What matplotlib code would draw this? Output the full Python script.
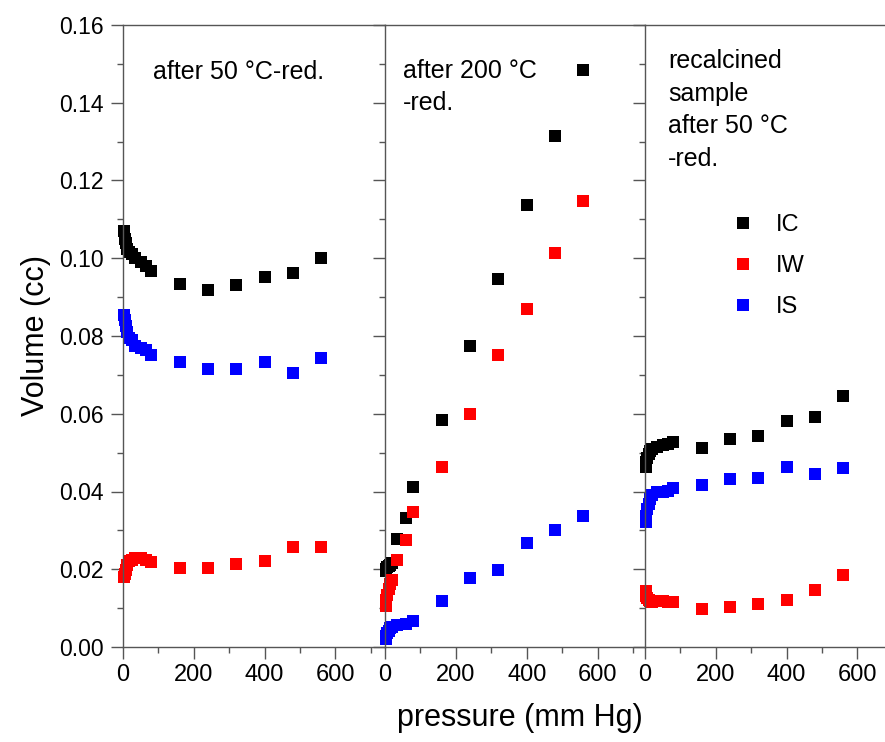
"""
Adsorption volume vs pressure for the three treatments (IC, IW, IS).
"""
import matplotlib
matplotlib.use('Agg')
from matplotlib import pyplot as plt
from matplotlib.ticker import MultipleLocator

plt.rcParams['font.family'] = ['Liberation Sans', 'DejaVu Sans']

# pressures (mm Hg) for each panel
p_50 = [2, 5, 8, 12, 18, 25, 35, 50, 65, 80, 160, 240, 320, 400, 480, 560]
p_200 = [2, 4, 7, 10, 15, 20, 35, 60, 80, 160, 240, 320, 400, 480, 560]
p_recalc = [2, 4, 7, 10, 15, 20, 35, 50, 65, 80, 160, 240, 320, 400, 480, 560]

# after 50 C reduction
ic_50 = [0.107, 0.105, 0.104, 0.1025, 0.1015, 0.101, 0.100, 0.099, 0.098, 0.0968,
         0.0935, 0.0918, 0.093, 0.0953, 0.0962, 0.1000]
iw_50 = [0.0180, 0.0188, 0.0198, 0.021, 0.022, 0.0225, 0.0228, 0.0228, 0.0225, 0.0218,
         0.0203, 0.0203, 0.0213, 0.0220, 0.0258, 0.0257]
is_50 = [0.0855, 0.084, 0.0825, 0.081, 0.0795, 0.079, 0.0775, 0.077, 0.0765, 0.0750,
         0.0732, 0.0714, 0.0714, 0.0733, 0.0705, 0.0743]

# after 200 C reduction
ic_200 = [0.0195, 0.0200, 0.0205, 0.0208, 0.021, 0.0215, 0.0278, 0.0332, 0.0412,
          0.0583, 0.0775, 0.0947, 0.1138, 0.1315, 0.1485]
iw_200 = [0.0105, 0.0120, 0.0135, 0.0150, 0.0162, 0.0172, 0.0223, 0.0274, 0.0346,
          0.0463, 0.0600, 0.0750, 0.0870, 0.1013, 0.1148]
is_200 = [0.0020, 0.0028, 0.0035, 0.0042, 0.0048, 0.0052, 0.0056, 0.0060, 0.0066,
          0.0118, 0.0177, 0.0197, 0.0268, 0.0302, 0.0338]

# recalcined sample, after 50 C reduction
ic_recalc = [0.0462, 0.0475, 0.0487, 0.0497, 0.0505, 0.051, 0.0515, 0.052, 0.0522, 0.0527,
             0.0513, 0.0535, 0.0543, 0.0582, 0.0592, 0.0645]
iw_recalc = [0.0143, 0.0132, 0.0125, 0.0120, 0.0118, 0.0116, 0.0118, 0.0118, 0.0117, 0.0116,
             0.0097, 0.0102, 0.0110, 0.0121, 0.0146, 0.0185]
is_recalc = [0.0322, 0.0338, 0.0355, 0.0368, 0.038, 0.039, 0.0398, 0.0400, 0.0402, 0.0408,
             0.0418, 0.0432, 0.0435, 0.0463, 0.0446, 0.0461]

labels = ['after 50 \u00b0C-red.', 'after 200 \u00b0C\n-red.',
          'recalcined\nsample\nafter 50 \u00b0C\n-red.']

W, H = 885., 742.
spine_col = '#555555'

def make_axes(fig, x0, x1, xmax):
    # pixel box -> figure fraction
    ax = fig.add_axes([x0 / W, (H - 647) / H, (x1 - x0) / W, (647 - 25) / H])
    ax.set_xlim(0, xmax)
    ax.set_ylim(0, 0.16)
    ax.spines['right'].set_visible(False)
    for s in ['left', 'top', 'bottom']:
        ax.spines[s].set_color(spine_col)
        ax.spines[s].set_linewidth(1.0)
    ax.xaxis.set_major_locator(MultipleLocator(200))
    ax.xaxis.set_minor_locator(MultipleLocator(100))
    ax.yaxis.set_major_locator(MultipleLocator(0.02))
    ax.yaxis.set_minor_locator(MultipleLocator(0.01))
    ax.tick_params(axis='both', which='both', direction='out', color=spine_col,
                   top=False, right=False)
    ax.tick_params(axis='y', which='major', length=9, width=1, pad=5, labelsize=16.5)
    ax.tick_params(axis='y', which='minor', length=4, width=1)
    ax.tick_params(axis='x', which='major', length=8.5, width=1, pad=4, labelsize=17)
    ax.tick_params(axis='x', which='minor', length=4.3, width=1)
    ax.patch.set_alpha(0)
    return ax

fig = plt.figure(figsize=(8.85, 7.42), dpi=100)

ax1 = make_axes(fig, 123, 385, 740)
ax2 = make_axes(fig, 385, 645, 734)
ax3 = make_axes(fig, 645, 885, 678)
ax1.yaxis.set_major_formatter(plt.FormatStrFormatter('%.2f'))
for ax in (ax2, ax3):
    ax.tick_params(axis='y', labelleft=False)

ms = 8.6
panels = [(ax1, p_50, ic_50, iw_50, is_50),
          (ax2, p_200, ic_200, iw_200, is_200),
          (ax3, p_recalc, ic_recalc, iw_recalc, is_recalc)]
for ax, p, ic, iw, iss in panels:
    ax.plot(p, ic, 's', color='black', ms=ms, mew=0, label='IC', clip_on=False)
    ax.plot(p, iw, 's', color='red', ms=ms, mew=0, label='IW', clip_on=False)
    ax.plot(p, iss, 's', color='blue', ms=ms, mew=0, label='IS', clip_on=False)

leg = ax3.legend(loc='upper left', bbox_to_anchor=(0.27, 0.73), frameon=False,
                 fontsize=17, handletextpad=0.9, labelspacing=0.8,
                 handlelength=1.0, markerscale=1.0)

# panel titles
fig.text(153 / W, 1 - 72 / H, labels[0], fontsize=18, va='center', ha='left')
fig.text(403 / W, 1 - 59 / H, labels[1], fontsize=18, va='top', ha='left',
         linespacing=1.4)
fig.text(668 / W, 1 - 49 / H, labels[2], fontsize=18, va='top', ha='left',
         linespacing=1.45)

fig.text(36 / W, 1 - 335 / H, 'Volume (cc)', fontsize=22, rotation=90,
         va='center', ha='center')
fig.text(520 / W, 1 - 718 / H, 'pressure (mm Hg)', fontsize=22,
         va='center', ha='center')

plt.savefig('out.png', dpi=100)
print("Created out.png")
